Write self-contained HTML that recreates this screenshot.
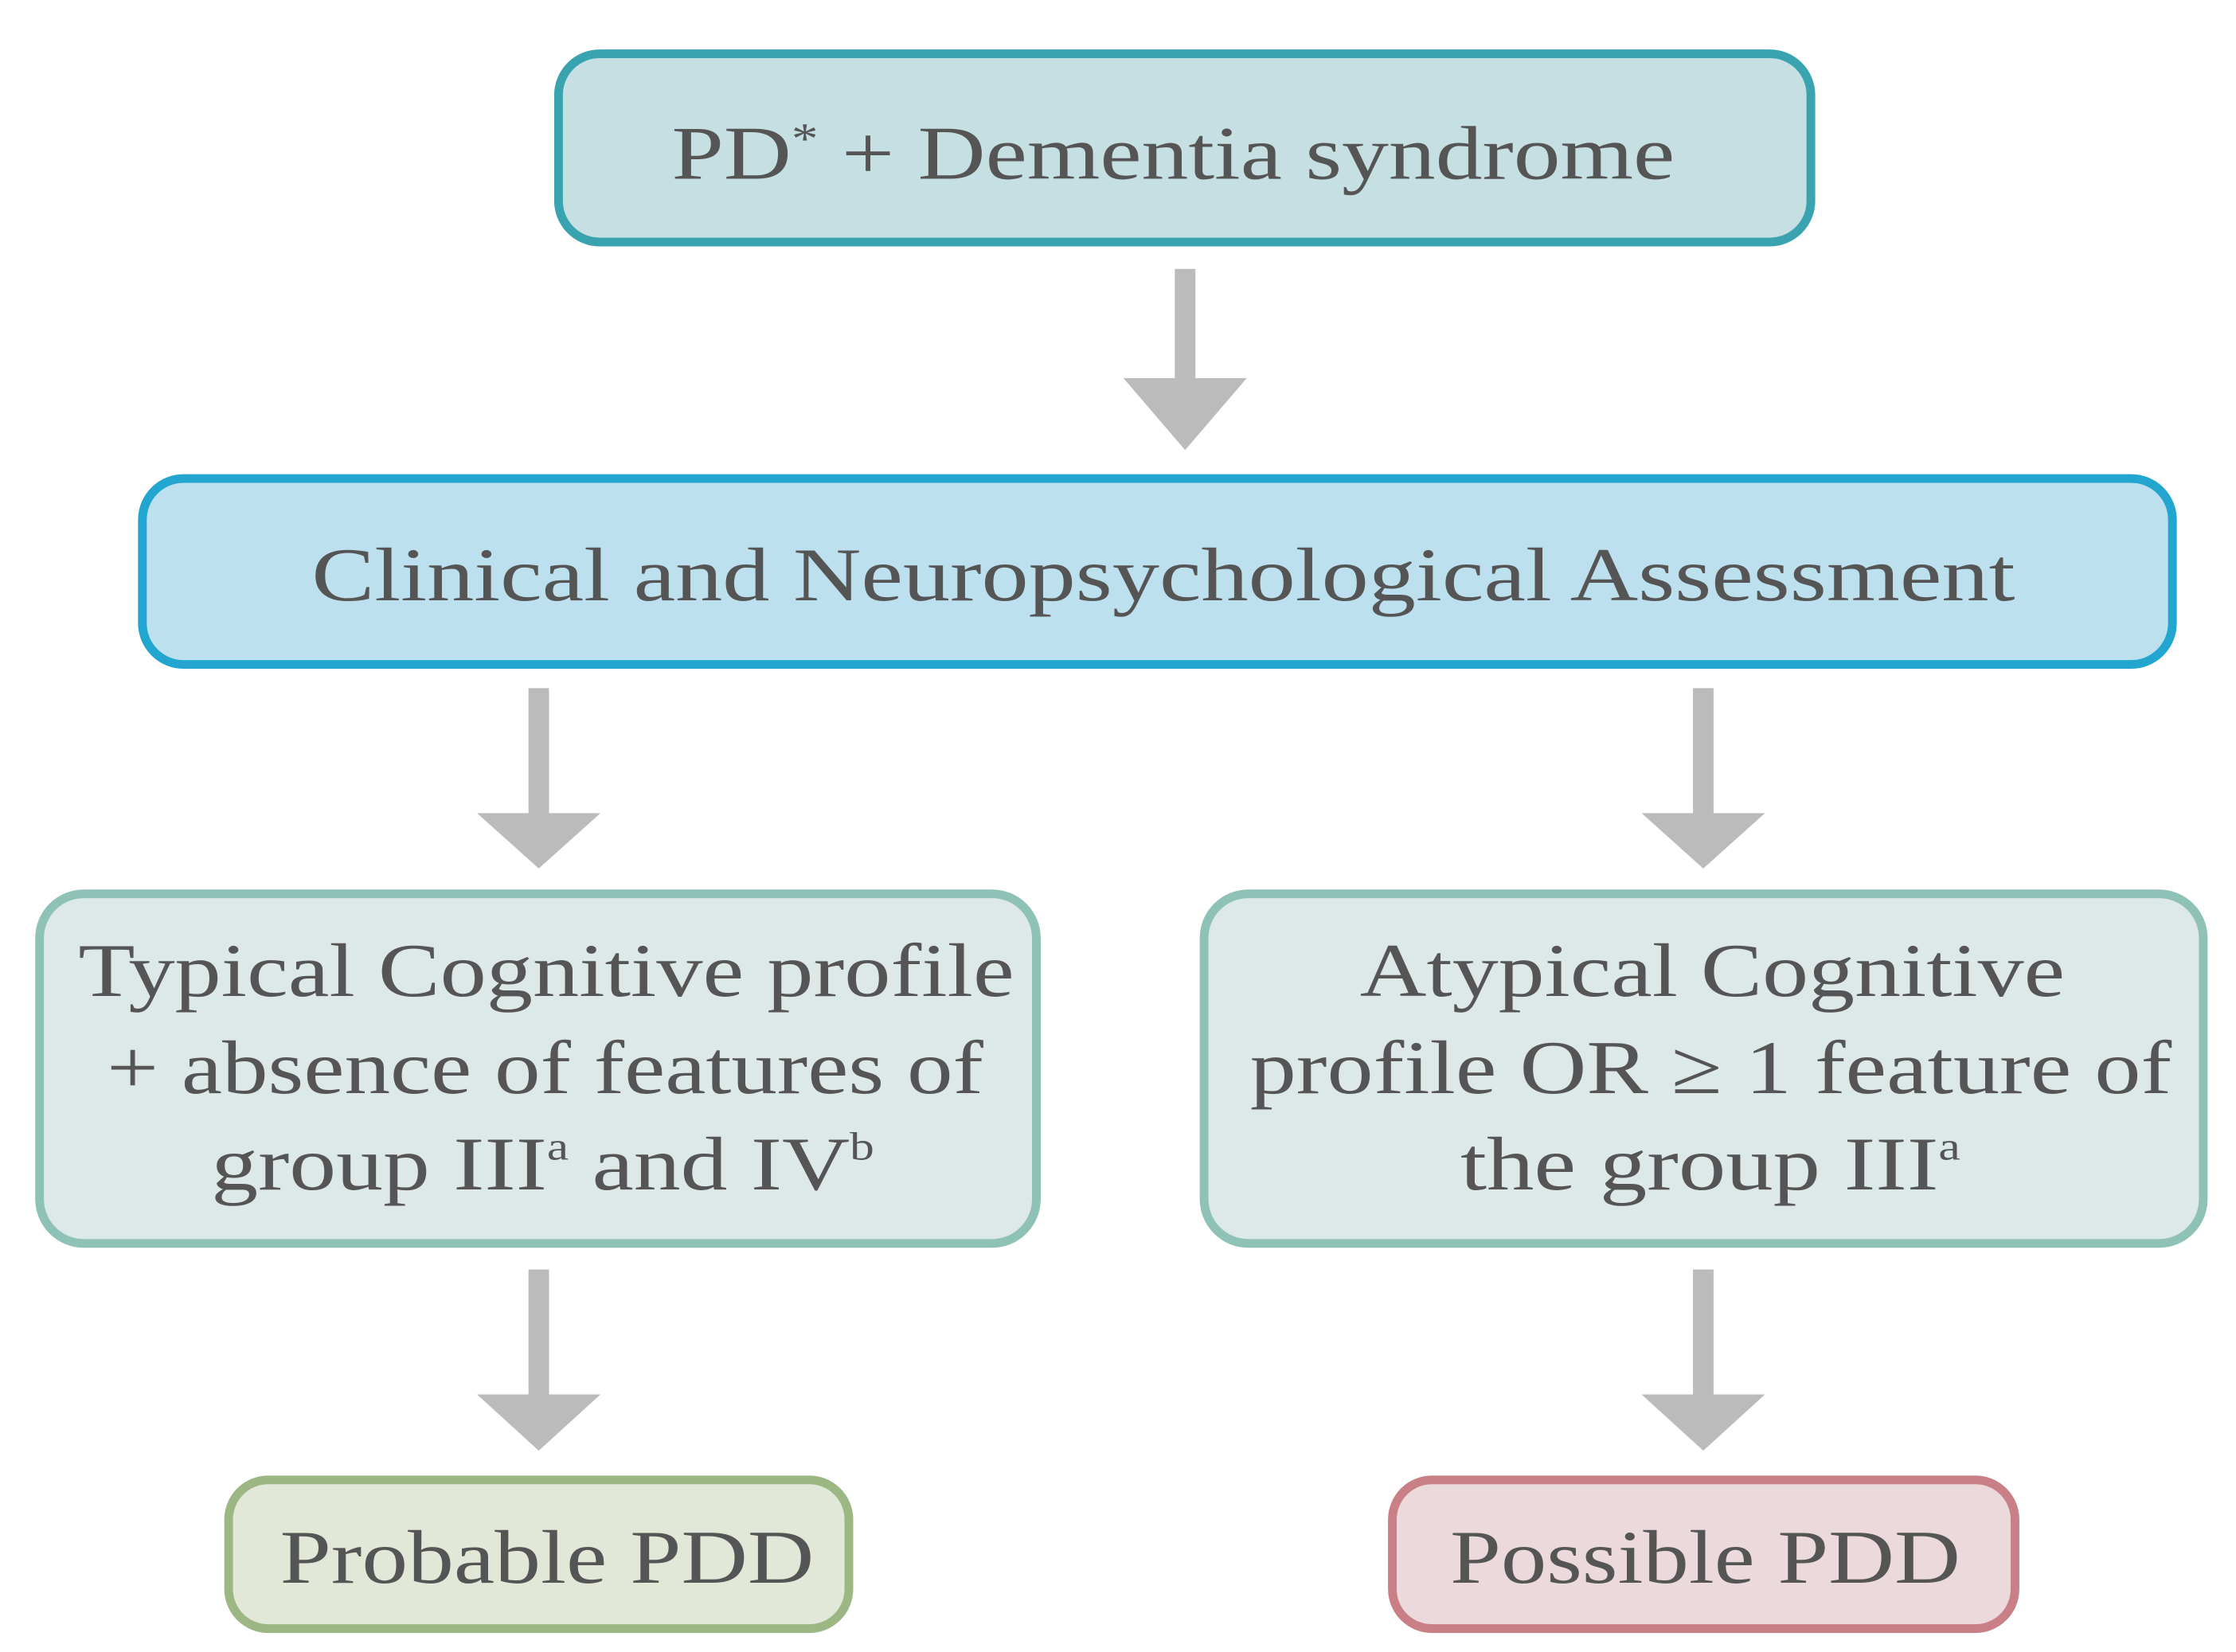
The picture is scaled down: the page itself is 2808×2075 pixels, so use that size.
<!DOCTYPE html>
<html><head><meta charset="utf-8"><style>
html,body{margin:0;padding:0;background:#fff;}
svg{display:block;}
text{font-family:"Liberation Serif",serif;fill:#555;}
</style></head><body>
<svg width="2808" height="2075" viewBox="0 0 2808 2075" xmlns="http://www.w3.org/2000/svg">
<g transform="scale(0.9935)">
<rect x="706" y="68" width="1583" height="238" rx="52" fill="#c5dfe3" stroke="#3aa3b0" stroke-width="11"/>
<rect x="180" y="605" width="2566" height="235" rx="52" fill="#bde0ee" stroke="#22a6d0" stroke-width="11"/>
<rect x="50" y="1130" width="1260" height="442" rx="56" fill="#dde9e8" stroke="#8fc2b6" stroke-width="11"/>
<rect x="1522" y="1130" width="1263" height="442" rx="56" fill="#dde9e8" stroke="#8fc2b6" stroke-width="11"/>
<rect x="289" y="1871" width="784" height="188" rx="50" fill="#e2e8d8" stroke="#9cb783" stroke-width="11"/>
<rect x="1760" y="1871" width="787" height="188" rx="50" fill="#ecd9dc" stroke="#c97f86" stroke-width="11"/>
<g fill="#bbbbbb">
<rect x="1485" y="340" width="26" height="140"/><polygon points="1420,478 1576,478 1498,569"/>
<rect x="668" y="870" width="26" height="160"/><polygon points="603,1028 759,1028 681,1098"/>
<rect x="2140" y="870" width="26" height="160"/><polygon points="2075,1028 2231,1028 2153,1098"/>
<rect x="668" y="1605" width="26" height="160"/><polygon points="603,1763 759,1763 681,1834"/>
<rect x="2140" y="1605" width="26" height="160"/><polygon points="2075,1763 2231,1763 2153,1834"/>
</g>
<g font-size="96">
<text x="849" y="226" textLength="1268" lengthAdjust="spacingAndGlyphs">PD<tspan font-size="55" dy="-32">*</tspan><tspan dy="32"> + Dementia syndrome</tspan></text>
<text x="394" y="759" textLength="2153" lengthAdjust="spacingAndGlyphs">Clinical and Neuropsychological Assessment</text>
<text x="99" y="1259" textLength="1183" lengthAdjust="spacingAndGlyphs">Typical Cognitive profile</text>
<text x="135" y="1382" textLength="1108" lengthAdjust="spacingAndGlyphs">+ absence of features of</text>
<text x="267" y="1504" textLength="838" lengthAdjust="spacingAndGlyphs">group III<tspan font-size="50" dy="-38">a</tspan><tspan dy="38"> and IV</tspan><tspan font-size="50" dy="-38">b</tspan></text>
<text x="1719" y="1259" textLength="891" lengthAdjust="spacingAndGlyphs">Atypical Cognitive</text>
<text x="1580" y="1382" textLength="1165" lengthAdjust="spacingAndGlyphs">profile OR  ≥ 1 feature of</text>
<text x="1846" y="1504" textLength="632" lengthAdjust="spacingAndGlyphs">the group III<tspan font-size="50" dy="-38">a</tspan></text>
<text x="354" y="2001" textLength="675" lengthAdjust="spacingAndGlyphs">Probable PDD</text>
<text x="1833" y="2001" textLength="645" lengthAdjust="spacingAndGlyphs">Possible PDD</text>
</g>
</g>
</svg>
</body></html>
